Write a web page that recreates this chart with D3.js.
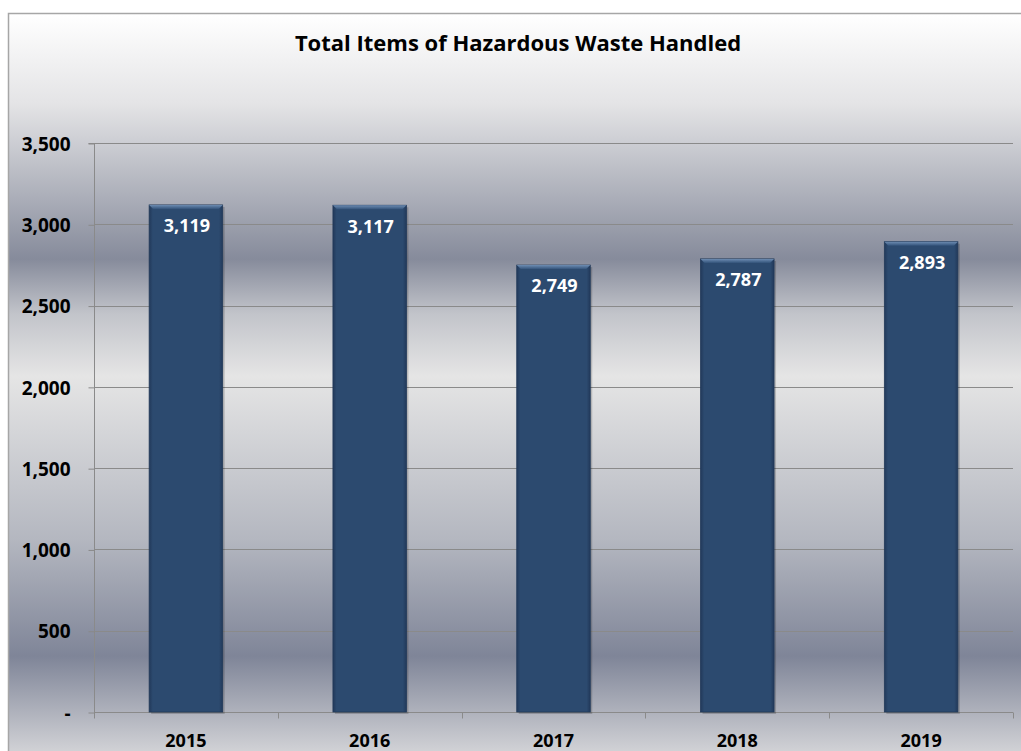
<!DOCTYPE html>
<html>
<head>
<meta charset="utf-8">
<script src="https://cdn.jsdelivr.net/npm/d3@7"></script>
<style>
  html, body { margin: 0; padding: 0; background: #ffffff; }
  svg { display: block; }
  text { font-family: "Open Sans", "DejaVu Sans", sans-serif; font-weight: bold; }
</style>
</head>
<body>
<svg id="chart" width="1021" height="751"></svg>
<script>
const title = "Total Items of Hazardous Waste Handled";
const years = ["2015", "2016", "2017", "2018", "2019"];
const items = [3119, 3117, 2749, 2787, 2893];
const yTicks = [0, 500, 1000, 1500, 2000, 2500, 3000, 3500];

const W = 1021, H = 751;
const plot = { left: 94, right: 1013, top: 143, bottom: 712 };

const svg = d3.select("#chart");
const defs = svg.append("defs");

// background gradient of the chart frame
const bg = defs.append("linearGradient").attr("id", "bg")
  .attr("x1", 0).attr("y1", 0).attr("x2", 0).attr("y2", 1);
[[0, "#ffffff"], [0.12, "#e4e4e6"], [0.327, "#868b9b"], [0.40, "#c2c4ca"], [0.483, "#e5e5e5"],
 [0.70, "#b4b7c0"], [0.856, "#7f8598"], [1, "#dcdcde"]]
  .forEach(([o, c]) => bg.append("stop").attr("offset", o).attr("stop-color", c));

// bar side shading
const side = defs.append("linearGradient").attr("id", "side")
  .attr("x1", 0).attr("y1", 0).attr("x2", 1).attr("y2", 0);
[[0, "#22395a"], [0.05, "#2c4a6f"], [0.95, "#2c4a6f"], [1, "#22395a"]]
  .forEach(([o, c]) => side.append("stop").attr("offset", o).attr("stop-color", c));

const topG = defs.append("linearGradient").attr("id", "topbevel")
  .attr("x1", 0).attr("y1", 0).attr("x2", 0).attr("y2", 1);
[[0, "#6d8cb2"], [1, "#34547b"]]
  .forEach(([o, c]) => topG.append("stop").attr("offset", o).attr("stop-color", c));

svg.append("rect")
  .attr("x", 8.5).attr("y", 13.5).attr("width", W).attr("height", H)
  .attr("fill", "url(#bg)").attr("stroke", "#a6a6a6").attr("stroke-width", 1.5);

const x = d3.scaleBand().domain(years).range([plot.left, plot.right])
  .paddingInner(0.6).paddingOuter(0.3);
const xEdge = d3.scaleLinear().domain([0, years.length]).range([plot.left, plot.right]);
const y = d3.scaleLinear().domain([0, 3500]).range([plot.bottom, plot.top]);

// gridlines
svg.append("g").selectAll("line").data(yTicks.filter(t => t > 0)).join("line")
  .attr("x1", plot.left).attr("x2", plot.right)
  .attr("y1", d => Math.round(y(d)) + 0.5).attr("y2", d => Math.round(y(d)) + 0.5)
  .attr("stroke", "#8a8a8a").attr("stroke-width", 1);

// y axis
const yAxis = d3.axisLeft(y).tickValues(yTicks)
  .tickFormat(d => d === 0 ? "-" : d3.format(",")(d))
  .tickSize(6).tickPadding(18);
const gy = svg.append("g").attr("transform", `translate(${plot.left + 0.5},0.5)`).call(yAxis);
gy.select(".domain").attr("stroke", "#8a8a8a").attr("d", `M-6,${y(3500)}H0V${y(0)}`);
gy.selectAll(".tick line").attr("stroke", "#8a8a8a");
gy.selectAll(".tick text").attr("fill", "#000").style("font-size", "19px")
  .style("font-family", "'Open Sans', sans-serif").style("font-weight", "bold")
  .attr("dy", "0.35em");

// x axis
const gx = svg.append("g").attr("transform", `translate(0,${plot.bottom + 0.5})`);
gx.append("line").attr("x1", plot.left).attr("x2", plot.right)
  .attr("stroke", "#8a8a8a");
gx.selectAll("line.tk").data(d3.range(years.length + 1)).join("line").attr("class", "tk")
  .attr("x1", d => Math.round(xEdge(d)) + 0.5).attr("x2", d => Math.round(xEdge(d)) + 0.5)
  .attr("y1", 0).attr("y2", 6).attr("stroke", "#8a8a8a");
gx.selectAll("text").data(years).join("text")
  .attr("x", d => x(d) + x.bandwidth() / 2).attr("y", 34)
  .attr("text-anchor", "middle").attr("fill", "#000").style("font-size", "18px")
  .text(d => d);

// bars
const bars = svg.append("g").selectAll("g").data(years.map((yr, i) => ({ yr, v: items[i] })))
  .join("g");
bars.append("rect")
  .attr("x", d => x(d.yr) + 2).attr("y", d => y(d.v) + 2)
  .attr("width", x.bandwidth()).attr("height", d => y(0) - y(d.v))
  .attr("fill", "rgba(0,0,0,0.18)");
bars.append("rect")
  .attr("x", d => x(d.yr)).attr("y", d => y(d.v))
  .attr("width", x.bandwidth()).attr("height", d => y(0) - y(d.v))
  .attr("fill", "url(#side)").attr("stroke", "#223a5a").attr("stroke-width", 0.8);
bars.append("path")
  .attr("d", d => {
    const x0 = x(d.yr), x1 = x0 + x.bandwidth(), t = y(d.v), b = 4;
    return `M${x0},${t}H${x1}L${x1 - b},${t + b}H${x0 + b}Z`;
  })
  .attr("fill", "url(#topbevel)");
bars.append("text")
  .attr("x", d => x(d.yr) + x.bandwidth() / 2 + 1).attr("y", d => y(d.v) + 21)
  .attr("dy", "0.35em").attr("text-anchor", "middle")
  .attr("fill", "#ffffff").style("font-size", "18px")
  .text(d => d3.format(",")(d.v));

// title
svg.append("text").attr("x", 518).attr("y", 43).attr("dy", "0.35em")
  .attr("text-anchor", "middle").attr("fill", "#000").style("font-size", "22px")
  .text(title);
</script>
</body>
</html>
